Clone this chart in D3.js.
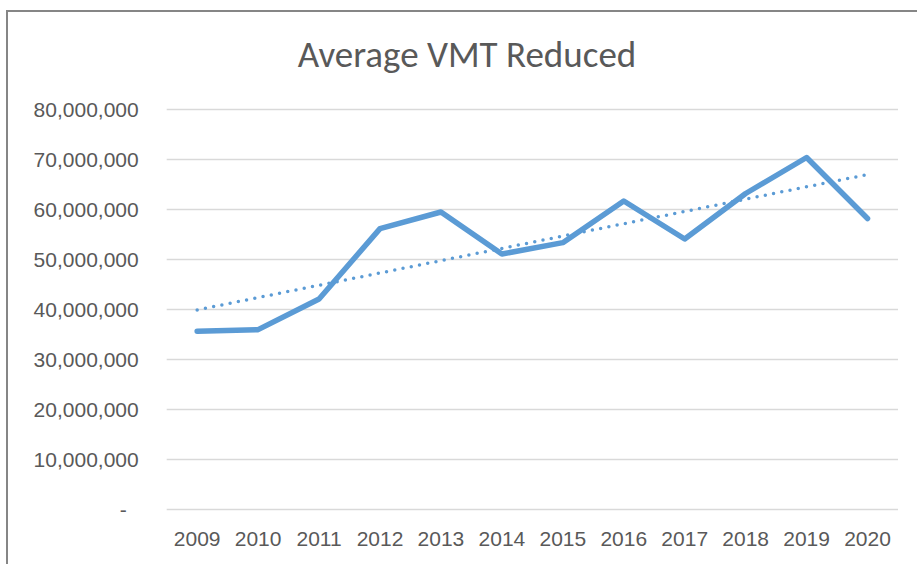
<!DOCTYPE html>
<html>
<head>
<meta charset="utf-8">
<script src="https://cdn.jsdelivr.net/npm/d3@7"></script>
<style>
  body { margin: 0; background: #fff; }
  svg { display: block; font-family: Carlito, Lato, sans-serif; }
</style>
</head>
<body>
<svg width="917" height="564"></svg>
<script>
// values (vehicle miles travelled reduced)
const years = ["2009", "2010", "2011", "2012", "2013", "2014", "2015", "2016", "2017", "2018", "2019", "2020"];
const vmtReduced = [35570000, 35870000, 42000000, 56070000, 59400000, 51000000, 53270000, 61600000, 54000000, 63100000, 70300000, 58100000];
const yTicks = [0, 10000000, 20000000, 30000000, 40000000, 50000000, 60000000, 70000000, 80000000];
const title = "Average VMT Reduced";

const svg = d3.select("svg");
const textColor = "#595959";
const blue = "#5b9bd5";

// chart frame (runs off the right and bottom edge like the screenshot)
svg.append("rect")
  .attr("x", 7).attr("y", 11)
  .attr("width", 940).attr("height", 580)
  .attr("fill", "none")
  .attr("stroke", "#868686")
  .attr("stroke-width", 2);

svg.append("text")
  .attr("x", 467).attr("y", 67)
  .attr("text-anchor", "middle")
  .attr("fill", textColor)
  .style("font-size", "37px")
  .style("font-weight", 300)
  .text(title);

const x = d3.scaleBand().domain(years).range([166.7, 898]);
const y = d3.scaleLinear().domain([0, 80000000]).range([509, 109]);

// gridlines + y labels
const yAxis = svg.append("g")
  .attr("transform", "translate(166.7,0)")
  .call(d3.axisLeft(y)
    .tickValues(yTicks)
    .tickSize(-(898 - 166.7))
    .tickPadding(28)
    .tickFormat(d => d === 0 ? "-" : d3.format(",")(d)));
yAxis.select(".domain").remove();
yAxis.selectAll(".tick line").attr("stroke", "#d9d9d9").attr("stroke-width", 1.5);
yAxis.selectAll(".tick text")
  .attr("fill", textColor)
  .style("font-size", "21px")
  .attr("dy", "0.36em");
yAxis.selectAll(".tick").filter(d => d === 0).select("text").attr("dx", -12);

// x labels
const xAxis = svg.append("g")
  .attr("transform", "translate(0,509)")
  .call(d3.axisBottom(x).tickSize(0).tickPadding(22));
xAxis.select(".domain").remove();
xAxis.selectAll(".tick text")
  .attr("fill", textColor)
  .style("font-size", "21px");

const cx = d => x(d) + x.bandwidth() / 2;

// linear trendline (least squares over the plotted values)
const n = vmtReduced.length;
const xm = d3.mean(d3.range(n));
const ym = d3.mean(vmtReduced);
const slope = d3.sum(vmtReduced, (v, i) => (i - xm) * (v - ym)) / d3.sum(d3.range(n), i => (i - xm) * (i - xm));
const icpt = ym - slope * xm;
const trend = [0, n - 1].map(i => ({ year: years[i], v: icpt + slope * i }));

svg.append("path")
  .datum(trend)
  .attr("fill", "none")
  .attr("stroke", blue)
  .attr("stroke-width", 3.5)
  .attr("stroke-linecap", "round")
  .attr("stroke-dasharray", "0 8.4")
  .attr("d", d3.line().x(d => cx(d.year)).y(d => y(d.v)));

// main series
svg.append("path")
  .datum(vmtReduced)
  .attr("fill", "none")
  .attr("stroke", blue)
  .attr("stroke-width", 5.5)
  .attr("stroke-linejoin", "round")
  .attr("stroke-linecap", "round")
  .attr("d", d3.line().x((d, i) => cx(years[i])).y(d => y(d)));
</script>
</body>
</html>
